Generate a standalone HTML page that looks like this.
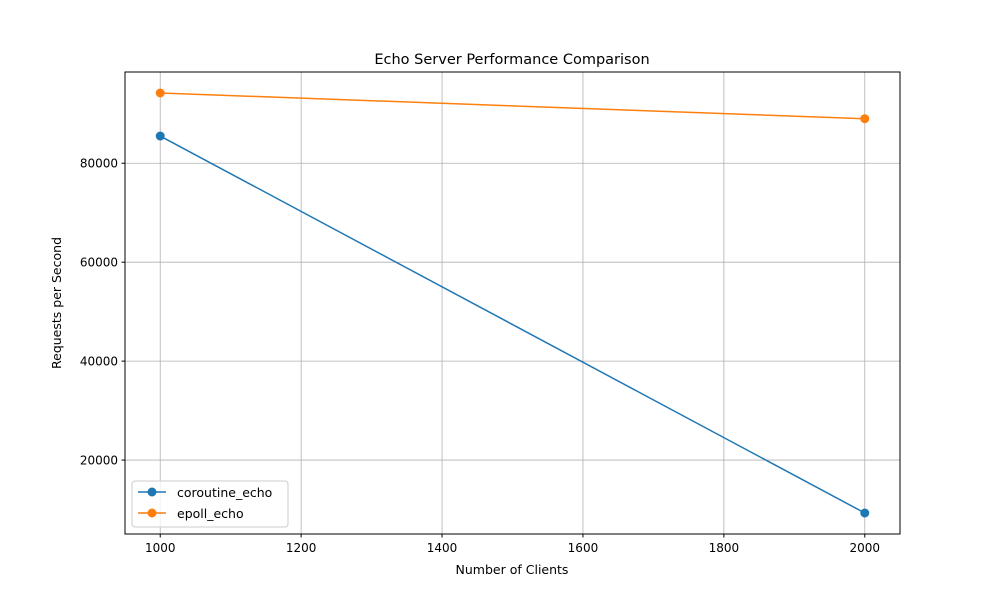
<!DOCTYPE html>
<html><head><meta charset="utf-8"><style>
body{margin:0;background:#fff;font-family:"DejaVu Sans","Liberation Sans",sans-serif;}
svg text{font-family:"DejaVu Sans","Liberation Sans",sans-serif;}
</style></head><body>
<svg width="1000" height="600" xmlns="http://www.w3.org/2000/svg">
<rect width="1000" height="600" fill="#fff"/>
<g id="grid"></g>
<g id="ticks"></g>
<g id="series"></g>
<rect x="125" y="72" width="775" height="462" fill="none" stroke="#000" stroke-width="1"/>
<text x="512" y="64" text-anchor="middle" font-size="14.5">Echo Server Performance Comparison</text>
<text x="512" y="574" text-anchor="middle" font-size="12.5">Number of Clients</text>
<text x="0" y="0" transform="translate(61,303) rotate(-90)" text-anchor="middle" font-size="12.5">Requests per Second</text>
<g>
<rect x="132" y="481" width="156" height="46" rx="3" fill="#fff" fill-opacity="0.8" stroke="#ccc"/>
<g><line x1="138" y1="492" x2="166" y2="492" stroke="#1f77b4" stroke-width="1.5"/><circle cx="152" cy="492" r="4.5" fill="#1f77b4"/><text x="177" y="497" font-size="12.5">coroutine_echo</text></g>
<g><line x1="138" y1="513" x2="166" y2="513" stroke="#ff7f0e" stroke-width="1.5"/><circle cx="152" cy="513" r="4.5" fill="#ff7f0e"/><text x="177" y="518" font-size="12.5">epoll_echo</text></g>
</g>
</svg>
<script>
const clients=[1000,2000];
const coroutineEcho=[85500,9300];
const epollEcho=[94200,89000];
const xTicks=[1000,1200,1400,1600,1800,2000];
const yTicks=[20000,40000,60000,80000];
const NS="http://www.w3.org/2000/svg";
const L=125,R=900,T=72,B=534;
const all=coroutineEcho.concat(epollEcho);
const ymn=Math.min(...all),ymx=Math.max(...all),yp=(ymx-ymn)*0.05;
const xmn=Math.min(...clients),xmx=Math.max(...clients),xp=(xmx-xmn)*0.05;
const sx=v=>L+(v-(xmn-xp))/((xmx+xp)-(xmn-xp))*(R-L);
const sy=v=>B-(v-(ymn-yp))/((ymx+yp)-(ymn-yp))*(B-T);
function mk(t,a,p){const e=document.createElementNS(NS,t);for(const k in a)e.setAttribute(k,a[k]);p.appendChild(e);return e;}
const grid=document.getElementById('grid'),ticks=document.getElementById('ticks'),series=document.getElementById('series');
xTicks.forEach(v=>{const x=sx(v);
const g=mk('line',{x1:x,x2:x,y1:T,y2:B,stroke:'#b0b0b0','stroke-width':0.8},grid);


mk('line',{x1:x,x2:x,y1:B,y2:B+3.5,stroke:'#000'},ticks);
const t=mk('text',{x:x,y:B+18,'text-anchor':'middle','font-size':12},ticks);t.textContent=v;

});
yTicks.forEach(v=>{const y=sy(v);
const g=mk('line',{x1:L,x2:R,y1:y,y2:y,stroke:'#b0b0b0','stroke-width':0.8},grid);


mk('line',{x1:L-3.5,x2:L,y1:y,y2:y,stroke:'#000'},ticks);
const t=mk('text',{x:L-7,y:y+4.5,'text-anchor':'end','font-size':12},ticks);t.textContent=v;

});
[[coroutineEcho,'#1f77b4','coroutine-echo'],[epollEcho,'#ff7f0e','epoll-echo']].forEach(([d,c,n])=>{
const pl=mk('polyline',{points:d.map((v,i)=>sx(clients[i])+','+sy(v)).join(' '),fill:'none',stroke:c,'stroke-width':1.5},series);


d.forEach((v,i)=>{const p=mk('circle',{cx:sx(clients[i]),cy:sy(v),r:4.5,fill:c},series);

});});
</script>
</body></html>
